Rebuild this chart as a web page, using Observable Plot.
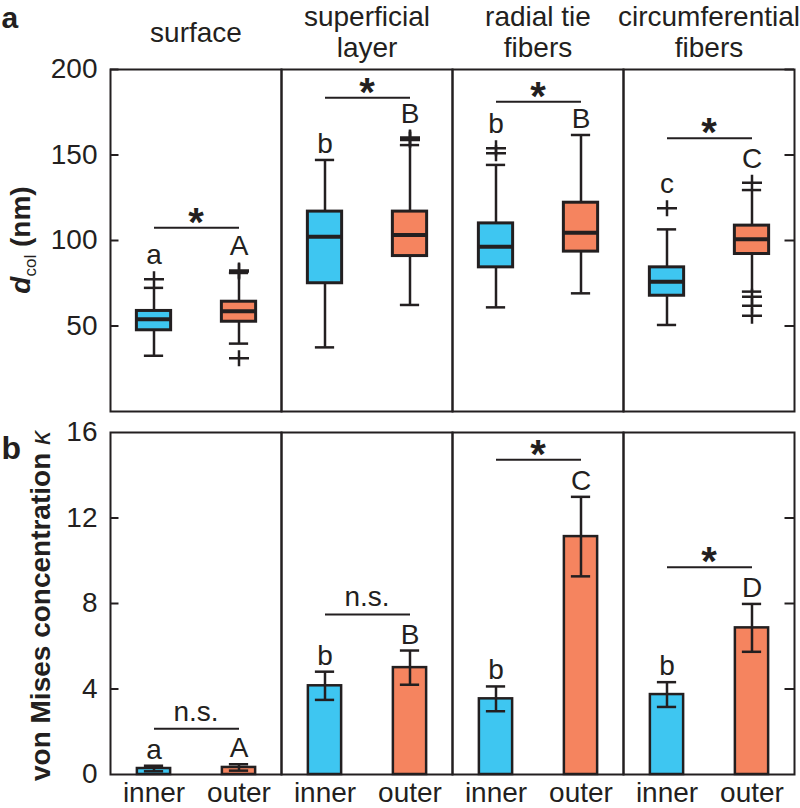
<!DOCTYPE html>
<html><head><meta charset="utf-8">
<script src="https://cdn.jsdelivr.net/npm/d3@7"></script>
<script src="https://cdn.jsdelivr.net/npm/@observablehq/plot@0.6"></script>
<style>body{margin:0;background:#fff} svg{display:block}</style>
</head><body><div id="chart"></div>
<script>
// ---------- data ----------
const groups = ["surface", "superficial layer", "radial tie fibers", "circumferential fibers"];
const groupTitles = ["surface", "superficial\nlayer", "radial tie\nfibers", "circumferential\nfibers"];
const positions = ["inner", "outer"];

// panel a: box plots of collagen diameter d_col (nm)
const boxGroup = ["surface", "surface", "superficial layer", "superficial layer", "radial tie fibers", "radial tie fibers", "circumferential fibers", "circumferential fibers"];
const boxPos = ["inner", "outer", "inner", "outer", "inner", "outer", "inner", "outer"];
const boxLo  = [32.6, 39.7, 37.5, 62.3, 60.9, 69.1, 50.6, 70.1];
const boxQ1  = [47.5, 52.5, 75.0, 90.9, 84.3, 93.5, 67.7, 92.1];
const boxMed = [53.9, 58.6, 102.2, 103.2, 96.4, 104.6, 75.9, 100.7];
const boxQ3  = [58.8, 64.2, 116.9, 116.9, 110.0, 122.1, 84.3, 108.7];
const boxHi  = [72.3, 81.0, 147.1, 155.8, 144.2, 161.7, 106.5, 129.5];
const boxLetters = ["a", "A", "b", "B", "b", "B", "c", "C"];

const outlierGroup = ["surface", "surface", "surface", "surface", "superficial layer", "superficial layer", "superficial layer", "radial tie fibers", "radial tie fibers", "circumferential fibers", "circumferential fibers", "circumferential fibers", "circumferential fibers", "circumferential fibers"];
const outlierPos   = ["inner", "outer", "outer", "outer", "outer", "outer", "outer", "inner", "inner", "inner", "outer", "outer", "outer", "outer"];
const outlierValue = [77.3, 81.8, 82.5, 31.1, 158.8, 159.6, 160.2, 151.0, 153.9, 118.8, 133.8, 67.1, 61.9, 56.0];

const sigAY = [107.5, 183.5, 181.2, 159.8];
const sigALabel = ["*", "*", "*", "*"];
const yTicksA = [50, 100, 150, 200];

// panel b: von Mises concentration kappa (mean ± error)
const barMean = [0.28, 0.33, 4.15, 5.0, 3.54, 11.13, 3.74, 6.86];
const barErr  = [0.13, 0.15, 0.66, 0.8, 0.58, 1.86, 0.58, 1.12];
const barLetters = ["a", "A", "b", "B", "b", "C", "b", "D"];
const sigBY = [2.14, 7.49, 14.72, 9.70];
const sigBLabel = ["n.s.", "n.s.", "*", "*"];
const yTicksB = [0, 4, 8, 12, 16];

// ---------- styling / layout ----------
const ink = "#231F20";
const blue = "#3EC6F1";
const orange = "#F5845F";
const font = "'Liberation Sans', Arial, Helvetica, sans-serif";
const W = 800, mL = 109, mR = 5;
const facetW = (W - mL - mR) / groups.length;
const band = facetW / positions.length;
const boxInset = (band - 35) / 2, barInset = (band - 34) / 2, capInset = (band - 20) / 2;
const plusSymbol = {draw(ctx) { ctx.moveTo(-10, 0); ctx.lineTo(10, 0); ctx.moveTo(0, -8); ctx.lineTo(0, 8); }};

// ---------- tables ----------
const outliers = outlierValue.map((v, i) => ({group: outlierGroup[i], pos: outlierPos[i], value: v}));
const boxes = boxGroup.map((g, i) => {
  const above = outliers.filter(o => o.group === g && o.pos === boxPos[i] && o.value > boxHi[i]);
  const topOut = above.length ? d3.max(above, o => o.value) : null;
  return {group: g, pos: boxPos[i], lo: boxLo[i], q1: boxQ1[i], med: boxMed[i], q3: boxQ3[i], hi: boxHi[i],
          letter: boxLetters[i], top: topOut ?? boxHi[i], outAbove: topOut != null};
});
const sigA = groups.map((g, i) => ({group: g, y: sigAY[i], label: sigALabel[i]}));
const bars = boxGroup.map((g, i) => ({group: g, pos: boxPos[i], mean: barMean[i], err: barErr[i], letter: barLetters[i]}));
const sigB = groups.map((g, i) => ({group: g, y: sigBY[i], label: sigBLabel[i]}));
const titles = groups.map((g, i) => ({group: g, title: groupTitles[i]}));

const baseStyle = {fontFamily: font, fontSize: "28px", color: ink, background: "white", overflow: "visible"};

function sigMarks(sig) {
  return [
    Plot.link(sig, {fx: "group", x1: () => "inner", x2: () => "outer", y1: "y", y2: "y", stroke: ink, strokeWidth: 2}),
    Plot.text(sig.filter(d => d.label === "*"), {fx: "group", y: "y", text: "label", fontSize: 40, fontWeight: "bold", dy: 8, lineAnchor: "bottom", fill: ink}),
    Plot.text(sig.filter(d => d.label !== "*"), {fx: "group", y: "y", text: "label", dy: -8, lineAnchor: "bottom", fill: ink})
  ];
}
function inwardTicks(ticks) {
  return [
    Plot.tickY(ticks, {y: d => d, fx: () => groups[0], stroke: ink, strokeWidth: 2, insetRight: facetW - 9}),
    Plot.tickY(ticks, {y: d => d, fx: () => groups[groups.length - 1], stroke: ink, strokeWidth: 2, insetLeft: facetW - 10})
  ];
}

// ---------- panel a ----------
const plotA = Plot.plot({
  width: W, height: 420, marginLeft: mL, marginRight: mR, marginTop: 69, marginBottom: 9,
  style: baseStyle,
  fx: {domain: groups, padding: 0, axis: null},
  x: {domain: positions, padding: 0, axis: null},
  y: {domain: [0, 200], ticks: yTicksA, tickSize: 0, tickPadding: 13, label: null},
  color: {domain: positions, range: [blue, orange]},
  marks: [
    Plot.frame({stroke: ink, strokeWidth: 2}),
    ...inwardTicks(yTicksA),
    Plot.ruleX(boxes, {fx: "group", x: "pos", y1: "q3", y2: "hi", stroke: ink, strokeWidth: 2.5}),
    Plot.ruleX(boxes, {fx: "group", x: "pos", y1: "lo", y2: "q1", stroke: ink, strokeWidth: 2.5}),
    Plot.tickY(boxes, {fx: "group", x: "pos", y: "hi", stroke: ink, strokeWidth: 2.5, insetLeft: capInset, insetRight: capInset}),
    Plot.tickY(boxes, {fx: "group", x: "pos", y: "lo", stroke: ink, strokeWidth: 2.5, insetLeft: capInset, insetRight: capInset}),
    Plot.barY(boxes, {fx: "group", x: "pos", y1: "q1", y2: "q3", fill: "pos", stroke: ink, strokeWidth: 3, insetLeft: boxInset, insetRight: boxInset}),
    Plot.tickY(boxes, {fx: "group", x: "pos", y: "med", stroke: ink, strokeWidth: 4, insetLeft: boxInset, insetRight: boxInset}),
    Plot.dot(outliers, {fx: "group", x: "pos", y: "value", symbol: plusSymbol, fill: "none", stroke: ink, strokeWidth: 2.5}),
    Plot.text(boxes.filter(d => d.outAbove), {fx: "group", x: "pos", y: "top", text: "letter", dy: -15, lineAnchor: "bottom", fill: ink}),
    Plot.text(boxes.filter(d => !d.outAbove), {fx: "group", x: "pos", y: "top", text: "letter", dy: -7, lineAnchor: "bottom", fill: ink}),
    ...sigMarks(sigA),
    Plot.text(titles, {fx: "group", text: "title", frameAnchor: "top", dy: -37.5, lineAnchor: "middle", lineHeight: 1.107, fill: ink}),
    Plot.text(["a"], {fx: () => groups[0], text: d => d, frameAnchor: "top-left", dx: -mL, dy: -42, textAnchor: "start", lineAnchor: "bottom", fontWeight: "bold", fontSize: 30, fill: ink})
  ]
});
{
  const t = d3.select(plotA).append("text")
    .attr("transform", "translate(30,240) rotate(-90)")
    .attr("text-anchor", "middle").attr("font-weight", "bold").attr("font-size", 28).attr("fill", ink);
  t.append("tspan").attr("font-style", "italic").text("d");
  t.append("tspan").attr("font-size", 17).attr("font-weight", "normal").attr("dy", 6).text("col");
  t.append("tspan").attr("dy", -6).text(" (nm)");
}

// ---------- panel b ----------
const plotB = Plot.plot({
  width: W, height: 388, marginLeft: mL, marginRight: mR, marginTop: 12, marginBottom: 34,
  style: baseStyle,
  fx: {domain: groups, padding: 0, axis: null},
  x: {domain: positions, padding: 0, tickSize: 0, tickPadding: 8, label: null},
  y: {domain: [0, 16], ticks: yTicksB, tickSize: 0, tickPadding: 13, label: null},
  color: {domain: positions, range: [blue, orange]},
  marks: [
    Plot.frame({stroke: ink, strokeWidth: 2}),
    ...inwardTicks(yTicksB.slice(1, -1)),
    Plot.barY(bars, {fx: "group", x: "pos", y: "mean", fill: "pos", stroke: ink, strokeWidth: 2.5, insetLeft: barInset, insetRight: barInset}),
    Plot.ruleX(bars, {fx: "group", x: "pos", y1: d => d.mean - d.err, y2: d => d.mean + d.err, stroke: ink, strokeWidth: 2.5}),
    Plot.tickY(bars, {fx: "group", x: "pos", y: d => d.mean + d.err, stroke: ink, strokeWidth: 2.5, insetLeft: capInset, insetRight: capInset}),
    Plot.tickY(bars, {fx: "group", x: "pos", y: d => d.mean - d.err, stroke: ink, strokeWidth: 2.5, insetLeft: capInset, insetRight: capInset}),
    Plot.text(bars, {fx: "group", x: "pos", y: d => d.mean + d.err, text: "letter", dy: -7, lineAnchor: "bottom", fill: ink}),
    ...sigMarks(sigB),
    Plot.text(["b"], {fx: () => groups[0], text: d => d, frameAnchor: "top-left", dx: -mL, dy: 26, textAnchor: "start", lineAnchor: "bottom", fontWeight: "bold", fontSize: 32, fill: ink})
  ]
});
{
  const t = d3.select(plotB).append("text")
    .attr("transform", "translate(50,186) rotate(-90)")
    .attr("text-anchor", "middle").attr("font-weight", "bold").attr("font-size", 28).attr("fill", ink);
  t.append("tspan").text("von Mises concentration ");
  t.append("tspan").attr("font-style", "italic").attr("font-weight", "normal").text("κ");
}

const root = document.getElementById("chart");
root.append(plotA, plotB);
</script>
</body></html>
